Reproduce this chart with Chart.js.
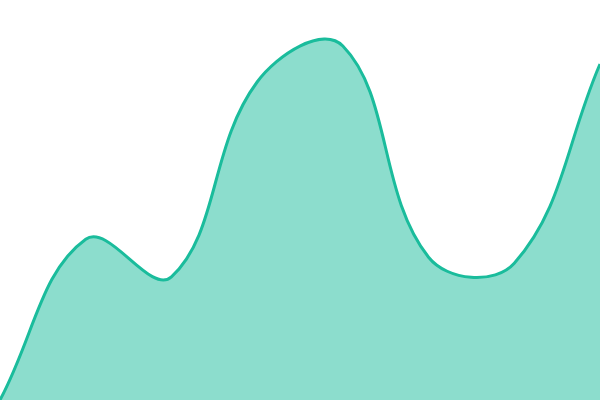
<!DOCTYPE html>
<html><head><meta charset="utf-8">
<script src="https://cdn.jsdelivr.net/npm/chart.js@4/dist/chart.umd.min.js"></script>
<style>html,body{margin:0;padding:0;background:#fff}#wrap{width:600px;height:400px}</style>
</head><body><div id="wrap"><canvas id="c"></canvas></div>
<script>
const categories = ["1","2","3","4","5","6","7","8"];
const values = [0, 40.2, 30.8, 79.5, 88.5, 35.7, 34.2, 84];
new Chart(document.getElementById('c'), {
  type: 'line',
  data: { labels: categories, datasets: [{
    data: values, fill: 'origin', tension: 0.4,
    borderColor: '#1abc9c', backgroundColor: 'rgba(26,188,156,0.5)',
    borderWidth: 3, pointRadius: 0
  }]},
  options: {
    responsive: true, maintainAspectRatio: false, animation: false,
    layout: { padding: 0 },
    plugins: { legend: { display: false }, tooltip: { enabled: false } },
    scales: {
      x: { display: false },
      y: { display: false, min: 0, max: 100 }
    }
  }
});
</script></body></html>
